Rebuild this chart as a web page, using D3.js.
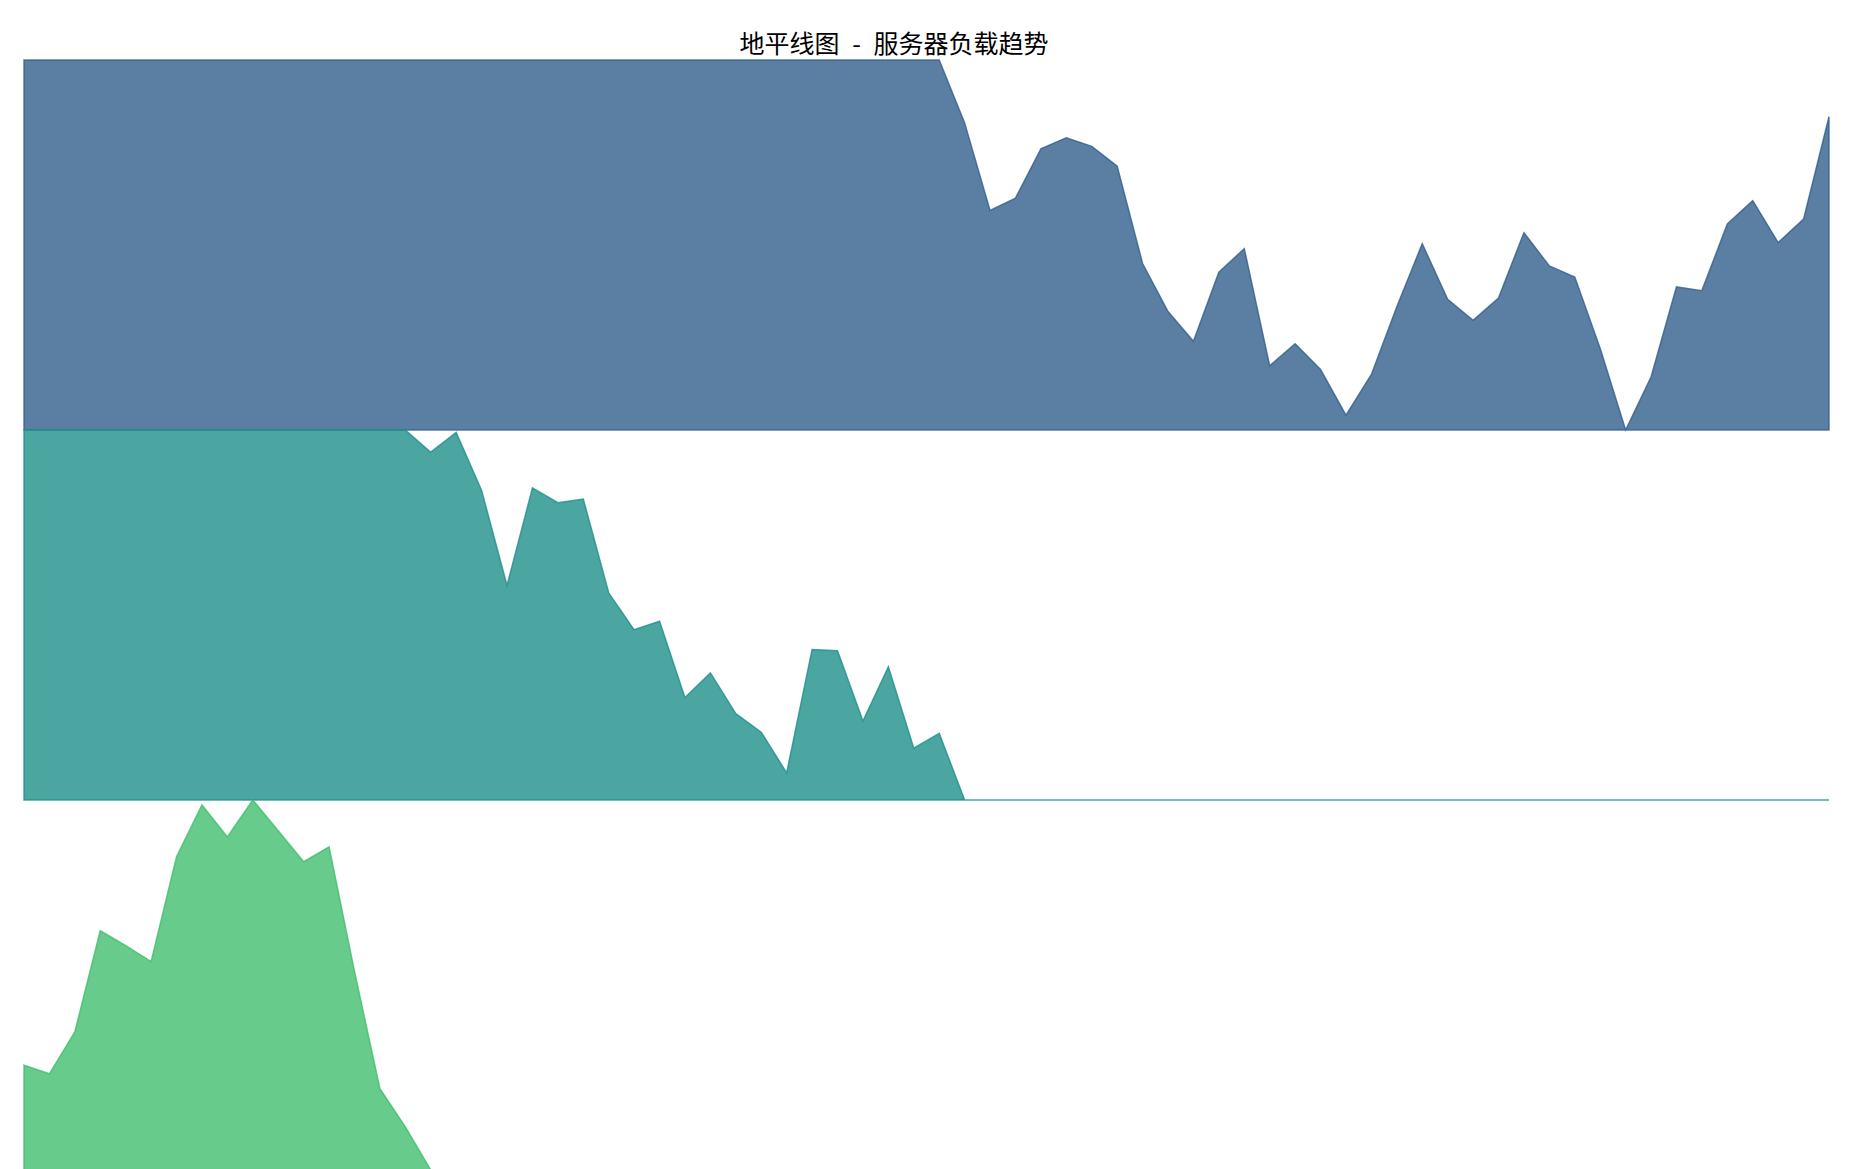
<!DOCTYPE html>
<html>
<head>
<meta charset="utf-8">
<script src="https://cdn.jsdelivr.net/npm/d3@7"></script>
<style>
  body { margin: 0; background: #fff; }
  svg { display: block; }
</style>
</head>
<body>
<svg></svg>
<script>
// server load readings (one per hour), band size 30
const hours = d3.range(72);
const load = [
  68.5, 67.8, 71.2, 79.4, 78.2, 76.9, 85.4, 89.6, 87.0, 90.0,
  87.5, 85.0, 86.2, 76.1, 66.6, 63.5, 58.2, 59.8, 55.1, 47.4,
  55.3, 54.1, 54.4, 46.8, 43.8, 44.5, 38.3, 40.3, 37.0, 35.5,
  32.2, 42.2, 42.1, 36.4, 40.8, 34.2, 35.4, 24.9, 17.8, 18.8,
  22.8, 23.7, 23.0, 21.4, 13.5, 9.6, 7.2, 12.8, 14.7, 5.2,
  7.0, 4.9, 1.2, 4.5, 10.0, 15.1, 10.6, 8.9, 10.7, 16.0,
  13.3, 12.4, 6.6, 0.0, 4.3, 11.6, 11.3, 16.7, 18.6, 15.2,
  17.1, 25.4
];
const bandSize = 30;
const bandColors = ["#325f8c", "#1e908b", "#41be6e"];
const title = "地平线图 - 服务器负载趋势";

const svg = d3.select("svg").attr("width", 1868).attr("height", 1169);

const margin = { left: 24, right: 39, top: 60 };
const bandHeight = 370;

const x = d3.scaleLinear()
  .domain(d3.extent(hours))
  .range([margin.left, 1868 - margin.right]);

bandColors.forEach((color, k) => {
  const top = margin.top + k * bandHeight;
  const y = d3.scaleLinear().domain([0, bandSize]).range([top + bandHeight, top]);
  const clipped = load.map(v => Math.max(0, Math.min(bandSize, v - k * bandSize)));

  const area = d3.area()
    .x((d, i) => x(hours[i]))
    .y0(y(0))
    .y1(d => y(d));

  svg.append("path")
    .datum(clipped)
    .attr("d", area)
    .attr("fill", color)
    .attr("fill-opacity", 0.8)
    .attr("stroke", color)
    .attr("stroke-opacity", 0.8)
    .attr("stroke-width", 1.5)
    .attr("stroke-linejoin", "miter");
});

svg.append("text")
  .attr("x", 894)
  .attr("y", 53)
  .attr("text-anchor", "middle")
  .attr("font-family", "'Noto Sans CJK SC', 'DejaVu Sans', sans-serif")
  .attr("font-size", 25)
  .attr("word-spacing", 7)
  .attr("fill", "#000")
  .text(title);
</script>
</body>
</html>
